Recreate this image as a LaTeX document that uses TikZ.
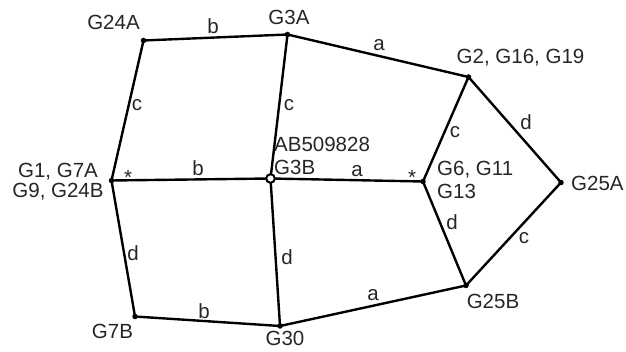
\documentclass[tikz,border=0pt]{standalone}
\usepackage{fontspec}
\setmainfont{Liberation Sans}
\begin{document}
\begin{tikzpicture}[x=1pt,y=-1pt,
  vtx/.style={circle,fill=black,inner sep=0pt,minimum size=5.5pt},
  ovtx/.style={circle,draw=black,fill=white,line width=1.9pt,inner sep=0pt,minimum size=8.5pt},
  edge/.style={line width=2.4pt,line cap=round,line join=round},
  lbl/.style={font=\fontsize{20.5}{23.5}\selectfont,inner sep=0pt,text=black!85},
  elbl/.style={font=\fontsize{20.5}{23.5}\selectfont,inner sep=0pt,text=black!85}]
\useasboundingbox (0,0) rectangle (626,352);
% vertices
\node[vtx] (g24a) at (143.5,40.5) {};
\node[vtx] (g3a) at (287.5,34.5) {};
\node[vtx] (g2) at (468.5,77) {};
\node[vtx] (g25a) at (561,182.5) {};
\node[vtx] (g25b) at (466,285.5) {};
\node[vtx] (g30) at (280,326) {};
\node[vtx] (g7b) at (135,316.5) {};
\node[vtx] (g1) at (111.5,180.5) {};
\node[vtx] (g6) at (423,181.5) {};
\node[ovtx] (g3b) at (270.5,178.5) {};
% edges
\draw[edge] (g24a.center) -- (g3a.center);
\draw[edge] (g3a.center) -- (g2.center);
\draw[edge] (g2.center) -- (g25a.center);
\draw[edge] (g25a.center) -- (g25b.center);
\draw[edge] (g25b.center) -- (g30.center);
\draw[edge] (g30.center) -- (g7b.center);
\draw[edge] (g7b.center) -- (g1.center);
\draw[edge] (g1.center) -- (g24a.center);
\draw[edge] (g2.center) -- (g6.center);
\draw[edge] (g6.center) -- (g25b.center);
\draw[edge] (g1) -- (g3b);
\draw[edge] (g3b) -- (g6.center);
\draw[edge] (g3a.center) -- (g3b);
\draw[edge] (g3b) -- (g30.center);
\node[ovtx] at (g3b) {};
% vertex labels
\node[lbl] (t24a) at (113.5,22) {G24A};
\node[lbl] (t3a) at (289,17) {G3A};
\node[lbl] (t2) at (520.5,58) {G2, G16, G19};
\node[lbl,anchor=west] (t25a) at (571,183) {G25A};
\node[lbl,anchor=west,align=left] (t6) at (437,180) {G6, G11\\G13};
\node[lbl,anchor=west,align=left] (t3b) at (274,156) {AB509828\\G3B};
\node[lbl,align=center,font=\fontsize{20.5}{20}\selectfont] (t1) at (58,181.5) {G1, G7A\\G9, G24B};
\node[lbl] (t7b) at (112.5,331) {G7B};
\node[lbl] (t30) at (285,338) {G30};
\node[lbl] (t25b) at (493,301) {G25B};
% edge labels
\node[elbl] (e1) at (213,26) {b};
\node[elbl] (e2) at (379,45) {a};
\node[elbl] (e3) at (526,122) {d};
\node[elbl] (e4) at (455,132) {c};
\node[elbl] (e5) at (137,105) {c};
\node[elbl] (e6) at (289,105) {c};
\node[elbl] (e7) at (198,168) {b};
\node[elbl] (e8) at (357,171) {a};
\node[elbl] (s1) at (128,177) {*};
\node[elbl] (s2) at (412,177) {*};
\node[elbl] (e9) at (452,222) {d};
\node[elbl] (e10) at (524,238) {c};
\node[elbl] (e11) at (133,253) {d};
\node[elbl] (e12) at (287,257) {d};
\node[elbl] (e13) at (373,295) {a};
\node[elbl] (e14) at (204,311) {b};
\end{tikzpicture}
\end{document}
